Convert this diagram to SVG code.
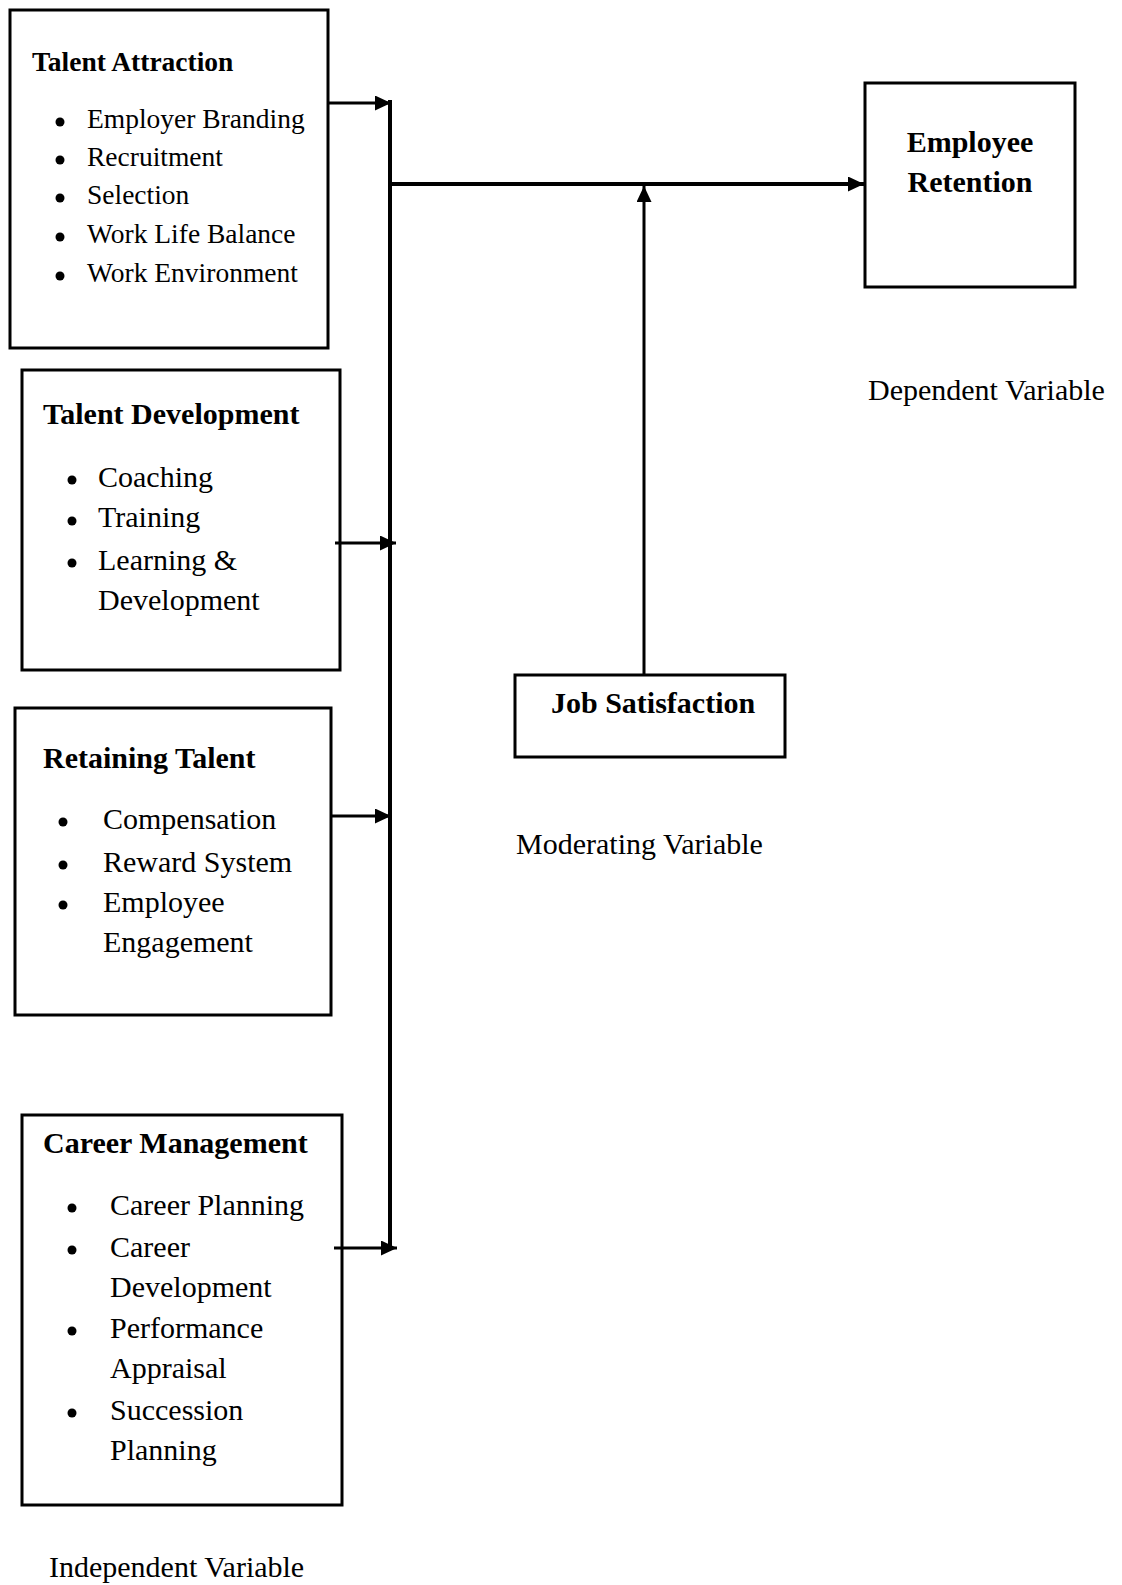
<svg xmlns="http://www.w3.org/2000/svg" width="1122" height="1585" viewBox="0 0 1122 1585">
  <style>
    .box { fill: #ffffff; stroke: #000000; stroke-width: 3; }
    .head { font-family: "Liberation Serif", "Times New Roman", serif; font-weight: bold; font-size: 30px; fill: #000000; }
    .item { font-family: "Liberation Serif", "Times New Roman", serif; font-size: 30px; fill: #000000; }
    .small .head { font-size: 27.5px; }
    .small .item { font-size: 27.5px; }
    .label { font-family: "Liberation Serif", "Times New Roman", serif; font-size: 30px; fill: #000000; }
    .dot { fill: #000000; }
    .wire { stroke: #000000; fill: none; stroke-width: 3; }
    .bus { stroke: #000000; fill: none; stroke-width: 4; }
  </style>
  <defs>
    <marker id="arrow" viewBox="0 0 16 15" refX="16" refY="7.5" markerWidth="16" markerHeight="15" markerUnits="userSpaceOnUse" orient="auto">
      <path d="M0,0 L16,7.5 L0,15 Z" fill="#000000"/>
    </marker>
  </defs>

  <rect width="1122" height="1585" fill="#ffffff"/>

  <!-- Independent variable groups -->
  <g id="talent-attraction" class="small">
    <rect class="box" x="10" y="10" width="318" height="338"/>
    <text class="head" x="32" y="71">Talent Attraction</text>
    <circle class="dot" cx="60" cy="122" r="4.5"/>
    <text class="item" x="87" y="128">Employer Branding</text>
    <circle class="dot" cx="60" cy="160" r="4.5"/>
    <text class="item" x="87" y="166">Recruitment</text>
    <circle class="dot" cx="60" cy="198" r="4.5"/>
    <text class="item" x="87" y="204">Selection</text>
    <circle class="dot" cx="60" cy="237" r="4.5"/>
    <text class="item" x="87" y="243">Work Life Balance</text>
    <circle class="dot" cx="60" cy="276" r="4.5"/>
    <text class="item" x="87" y="282">Work Environment</text>
  </g>

  <g id="talent-development">
    <rect class="box" x="22" y="370" width="318" height="300"/>
    <text class="head" x="43" y="424">Talent Development</text>
    <circle class="dot" cx="72" cy="480" r="4.5"/>
    <text class="item" x="98" y="487">Coaching</text>
    <circle class="dot" cx="72" cy="521" r="4.5"/>
    <text class="item" x="98" y="527">Training</text>
    <circle class="dot" cx="72" cy="563" r="4.5"/>
    <text class="item" x="98" y="570">Learning &amp;</text>
    <text class="item" x="98" y="610">Development</text>
  </g>

  <g id="retaining-talent">
    <rect class="box" x="15" y="708" width="316" height="307"/>
    <text class="head" x="43" y="768">Retaining Talent</text>
    <circle class="dot" cx="63" cy="822" r="4.5"/>
    <text class="item" x="103" y="829">Compensation</text>
    <circle class="dot" cx="63" cy="865" r="4.5"/>
    <text class="item" x="103" y="872">Reward System</text>
    <circle class="dot" cx="63" cy="905" r="4.5"/>
    <text class="item" x="103" y="912">Employee</text>
    <text class="item" x="103" y="952">Engagement</text>
  </g>

  <g id="career-management">
    <rect class="box" x="22" y="1115" width="320" height="390"/>
    <text class="head" x="43" y="1153">Career Management</text>
    <circle class="dot" cx="72" cy="1208" r="4.5"/>
    <text class="item" x="110" y="1215">Career Planning</text>
    <circle class="dot" cx="72" cy="1250" r="4.5"/>
    <text class="item" x="110" y="1257">Career</text>
    <text class="item" x="110" y="1297">Development</text>
    <circle class="dot" cx="72" cy="1331" r="4.5"/>
    <text class="item" x="110" y="1338">Performance</text>
    <text class="item" x="110" y="1378">Appraisal</text>
    <circle class="dot" cx="72" cy="1413" r="4.5"/>
    <text class="item" x="110" y="1420">Succession</text>
    <text class="item" x="110" y="1460">Planning</text>
  </g>

  <!-- Moderating variable -->
  <g id="job-satisfaction">
    <rect class="box" x="515" y="675" width="270" height="82"/>
    <text class="head" x="551" y="713">Job Satisfaction</text>
  </g>

  <!-- Dependent variable -->
  <g id="employee-retention">
    <rect class="box" x="865" y="83" width="210" height="204"/>
    <text class="head" x="970" y="152" text-anchor="middle">Employee</text>
    <text class="head" x="970" y="192" text-anchor="middle">Retention</text>
  </g>

  <!-- Connectors -->
  <g id="connectors">
    <line class="bus" x1="390" y1="100" x2="390" y2="1246"/>
    <line class="wire" x1="328" y1="103" x2="391" y2="103" marker-end="url(#arrow)"/>
    <line class="wire" x1="335" y1="543" x2="396" y2="543" marker-end="url(#arrow)"/>
    <line class="wire" x1="331" y1="816" x2="391" y2="816" marker-end="url(#arrow)"/>
    <line class="wire" x1="334" y1="1248" x2="397" y2="1248" marker-end="url(#arrow)"/>
    <line class="bus" x1="390" y1="184" x2="864" y2="184" marker-end="url(#arrow)"/>
    <line class="wire" x1="644" y1="674" x2="644" y2="186" marker-end="url(#arrow)"/>
  </g>

  <!-- Variable captions -->
  <g id="captions">
    <text class="label" x="868" y="400">Dependent Variable</text>
    <text class="label" x="516" y="854">Moderating Variable</text>
    <text class="label" x="49" y="1577">Independent Variable</text>
  </g>
</svg>
